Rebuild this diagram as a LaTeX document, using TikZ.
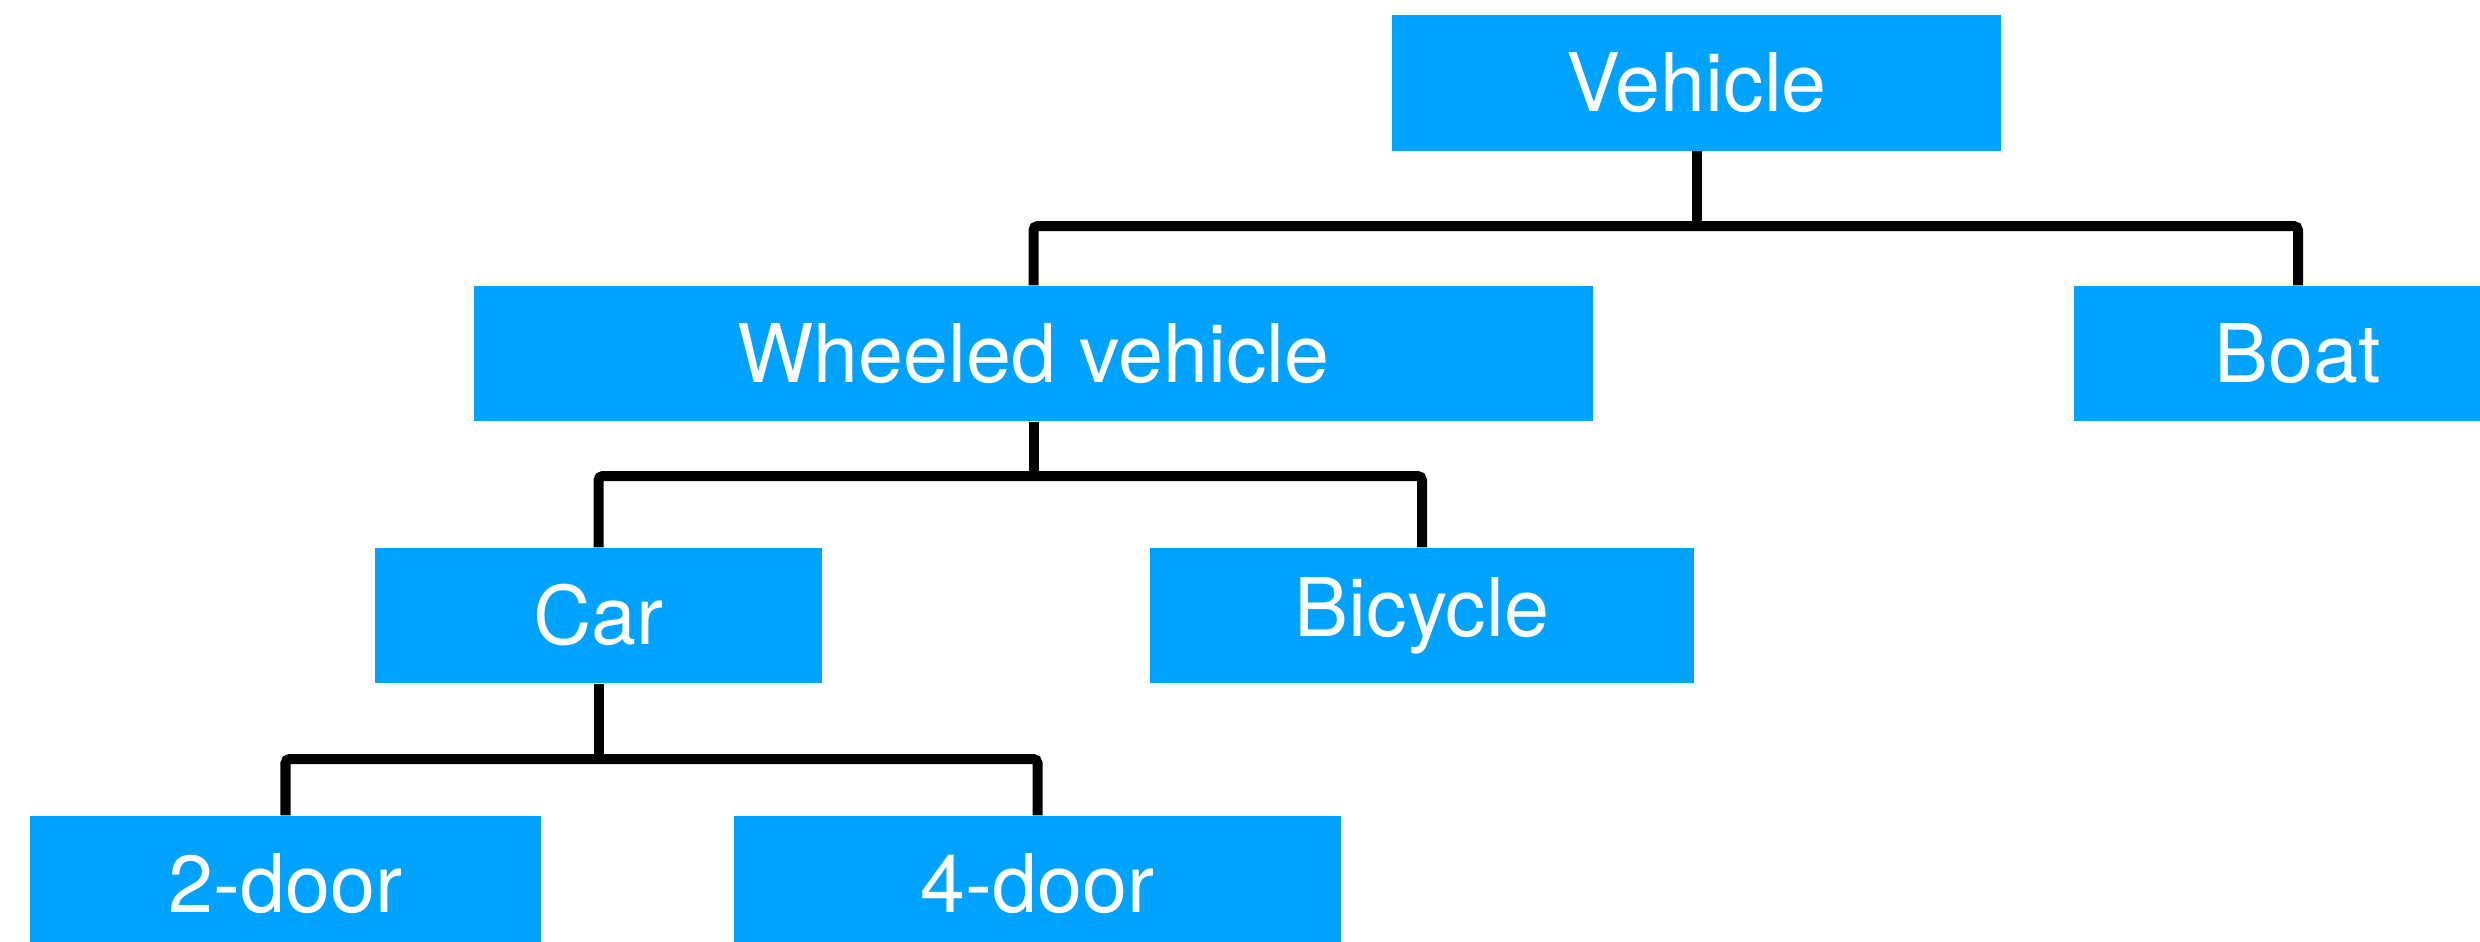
\documentclass[tikz,border=0pt]{standalone}
\usepackage{fontspec}
\setmainfont{TeX Gyre Heros}
\definecolor{boxblue}{RGB}{0,162,255}
\begin{document}
\begin{tikzpicture}[x=0.01cm,y=-0.01cm,
  tbox/.style={rectangle, fill=boxblue, draw=none, text=white, inner sep=0pt,
    minimum height=1.35cm, font=\fontsize{23}{27}\selectfont},
  conn/.style={draw=black, line width=0.1cm, rounded corners=1.2pt, line cap=butt}]
\useasboundingbox (0,0) rectangle (2480,942);
\clip (0,0) rectangle (2480,942);
\fill[white] (0,0) rectangle (2480,942);
% nodes
\node[tbox, minimum width=6.09cm] (veh) at (1696.5,83) {Vehicle};
\node[tbox, minimum width=11.19cm] (wv) at (1033.5,353.5) {Wheeled vehicle};
\node[tbox, minimum width=4.48cm] (boat) at (2298,353.5) {Boat};
\node[tbox, minimum width=4.47cm] (car) at (598.5,615.5) {Car};
\node[tbox, minimum width=5.44cm] (bike) at (1422,615.5) {Bicycle};
\node[tbox, minimum width=5.11cm] (d2) at (285.5,883.5) {2-door};
\node[tbox, minimum width=6.07cm] (d4) at (1037.5,883.5) {4-door};
% junctions
\coordinate (j1) at (veh.south |- 0,226);
\coordinate (j2) at (wv.south |- 0,476);
\coordinate (j3) at (car.south |- 0,759);
% connectors
\draw[conn] (veh.south) -- (j1);
\draw[conn] (wv.north) |- (j1) -| (boat.north);
\draw[conn] (wv.south) -- (j2);
\draw[conn] (car.north) |- (j2) -| (bike.north);
\draw[conn] (car.south) -- (j3);
\draw[conn] (d2.north) |- (j3) -| (d4.north);
\end{tikzpicture}
\end{document}
